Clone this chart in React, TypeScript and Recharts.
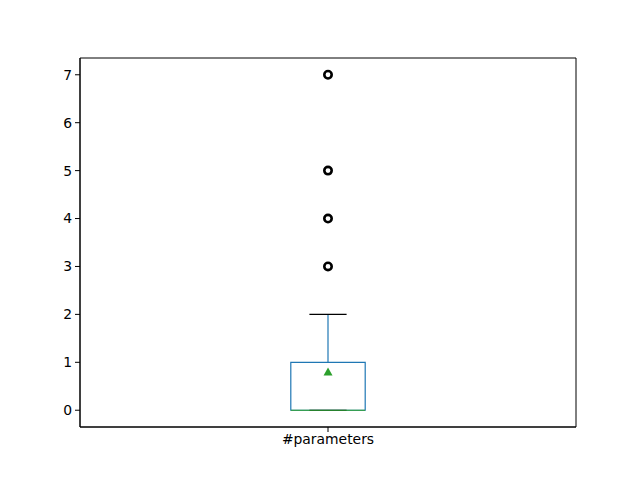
import React from 'react'
import {
  ComposedChart,
  XAxis,
  YAxis,
  Scatter,
  ReferenceArea,
  ReferenceLine,
} from 'recharts'

const category = '#parameters'
const yTicks = [0, 1, 2, 3, 4, 5, 6, 7]

// box stats
const q1 = 0
const median = 0
const q3 = 1
const whiskerLow = 0
const whiskerHigh = 2
const mean = 0.8
const outliers = [3, 4, 5, 7]

const pos = 1
const boxHalf = 0.075
const capHalf = 0.0375

const outlierData = outliers.map((v) => ({ x: pos, y: v }))
const meanData = [{ x: pos, y: mean }]

const Ring = (props: any) => {
  const { cx, cy } = props
  return <circle cx={cx} cy={cy} r={3.7} fill="none" stroke="#000" strokeWidth={2.6} />
}

const Tri = (props: any) => {
  const { cx, cy } = props
  return (
    <polygon
      points={`${cx},${cy - 4.5} ${cx - 4.5},${cy + 3.5} ${cx + 4.5},${cy + 3.5}`}
      fill="#2ca02c"
    />
  )
}

const tickStyle = { fill: '#000', fontSize: 13.9, fontFamily: 'DejaVu Sans' }

export default function App() {
  return (
    <div style={{ position: 'absolute', left: 0, top: 0, background: '#fff' }}>
      <ComposedChart
        width={640}
        height={480}
        margin={{ top: 58, right: 64, left: 40, bottom: 23 }}
      >
        <XAxis
          dataKey="x"
          type="number"
          domain={[0.5, 1.5]}
          ticks={[pos]}
          tickFormatter={() => category}
          allowDataOverflow
          height={30}
          stroke="#000"
          tickSize={5}
          tickMargin={2}
          tick={tickStyle}
        />
        <YAxis
          dataKey="y"
          type="number"
          domain={[-0.35, 7.35]}
          ticks={yTicks}
          allowDataOverflow
          width={40}
          stroke="#000"
          tickSize={5}
          tickMargin={3}
          tick={tickStyle}
        />
        <ReferenceArea
          x1={0.5}
          x2={1.5}
          y1={-0.35}
          y2={7.35}
          fill="none"
          fillOpacity={0}
          stroke="#000"
          strokeWidth={1}
          strokeOpacity={1}
        />
        <ReferenceArea
          x1={pos - boxHalf}
          x2={pos + boxHalf}
          y1={q1}
          y2={q3}
          fill="none"
          fillOpacity={0}
          stroke="#1f77b4"
          strokeWidth={1.2}
          strokeOpacity={1}
        />
        <ReferenceLine
          segment={[{ x: pos, y: q3 }, { x: pos, y: whiskerHigh }]}
          stroke="#1f77b4"
          strokeWidth={1.2}
        />
        <ReferenceLine
          segment={[{ x: pos, y: q1 }, { x: pos, y: whiskerLow }]}
          stroke="#1f77b4"
          strokeWidth={1.2}
        />
        <ReferenceLine
          segment={[{ x: pos - capHalf, y: whiskerHigh }, { x: pos + capHalf, y: whiskerHigh }]}
          stroke="#000"
          strokeWidth={1.2}
        />
        <ReferenceLine
          segment={[{ x: pos - capHalf, y: whiskerLow }, { x: pos + capHalf, y: whiskerLow }]}
          stroke="#000"
          strokeWidth={1.2}
        />
        <ReferenceLine
          segment={[{ x: pos - boxHalf, y: median }, { x: pos + boxHalf, y: median }]}
          stroke="#2ca02c"
          strokeWidth={1.2}
        />
        <Scatter data={outlierData} dataKey="y" shape={Ring} isAnimationActive={false} />
        <Scatter data={meanData} dataKey="y" shape={Tri} isAnimationActive={false} />
      </ComposedChart>
    </div>
  )
}
